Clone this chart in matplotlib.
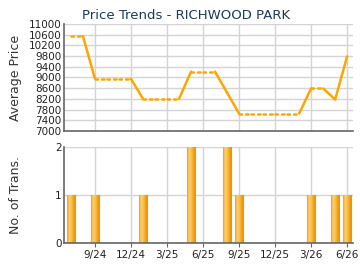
import matplotlib
matplotlib.use("Agg")
import matplotlib.pyplot as plt
import numpy as np
from matplotlib.colors import LinearSegmentedColormap

months = ["7/24", "8/24", "9/24", "10/24", "11/24", "12/24", "1/25", "2/25", "3/25",
          "4/25", "5/25", "6/25", "7/25", "8/25", "9/25", "10/25", "11/25", "12/25",
          "1/26", "2/26", "3/26", "4/26", "5/26", "6/26"]
prices = [10550, 10550, 8950, 8950, 8950, 8950, 8200, 8200, 8200, 8200, 9220, 9220,
          9220, 8435, 7650, 7650, 7650, 7650, 7650, 7650, 8590, 8590, 8180, 9790]
trans = [1, 0, 1, 0, 0, 0, 1, 0, 0, 0, 2, 0, 0, 2, 1, 0, 0, 0, 0, 0, 1, 0, 1, 1]
tick_labels = ["9/24", "12/24", "3/25", "6/25", "9/25", "12/25", "3/26", "6/26"]

x = np.arange(len(months))
tick_pos = [months.index(t) for t in tick_labels]

fig = plt.figure(figsize=(3.6, 2.7), dpi=100)
ax1 = fig.add_axes([0.179, 0.515, 0.802, 0.396])
ax2 = fig.add_axes([0.179, 0.100, 0.802, 0.356])

line_c = "#FFA500"
grid_c = "#d4d4d4"
spine_c = "#666666"
txt_c = "#222222"

for ax in (ax1, ax2):
    ax.set_xlim(-0.54, 23.5)
    for s in ("top", "right"):
        ax.spines[s].set_visible(False)
    for s in ("left", "bottom"):
        ax.spines[s].set_color(spine_c)
        ax.spines[s].set_linewidth(1.2)
    ax.set_xticks(tick_pos)
    ax.grid(True, color=grid_c, linewidth=1)
    ax.set_axisbelow(True)
    ax.tick_params(axis="y", length=0, labelsize=7.5, colors=txt_c, pad=2)

# Price line: segment into month with a transaction solid, else dotted
for i in range(1, len(x)):
    style = "-" if trans[i] > 0 else ":"
    ax1.plot(x[i-1:i+1], prices[i-1:i+1], color=line_c, linewidth=1.8,
             linestyle=style, solid_capstyle="round", dash_capstyle="round")

ax1.set_ylim(7000, 11000)
ax1.set_yticks(np.arange(7000, 11001, 400))
ax1.tick_params(axis="x", length=0, labelbottom=False)
ax1.set_ylabel("Average Price", fontsize=9, color="#333333")
ax1.yaxis.set_label_coords(-0.148, 0.5)
fig.text(0.227, 0.944, "Price Trends - RICHWOOD PARK", fontsize=9.5,
         color="#1b3a5e", ha="left", va="center")

# Bars with gradient
cmap = LinearSegmentedColormap.from_list("bar", ["#F0A020", "#FFD070", "#F8C050", "#F0A010", "#E89400"])
grad = np.linspace(0, 1, 64).reshape(1, -1)
bars = ax2.bar(x, trans, width=0.72, color="#F7B840", edgecolor="#EAA020", linewidth=0.8)
for b in bars:
    h = b.get_height()
    if h <= 0:
        continue
    x0 = b.get_x()
    w = b.get_width()
    im = ax2.imshow(grad, extent=[x0, x0 + w, 0, h], aspect="auto", cmap=cmap,
                    zorder=b.get_zorder() + 0.1, interpolation="bilinear")
    im.set_clip_path(b)

ax2.set_xlim(-0.54, 23.5)
ax2.set_ylim(0, 2)
ax2.set_yticks([0, 1, 2])
ax2.set_xticklabels(tick_labels)
ax2.tick_params(axis="x", length=3, color=spine_c, labelsize=7.5, colors=txt_c, pad=2)
ax2.set_ylabel("No. of Trans.", fontsize=9, color="#333333")
ax2.yaxis.set_label_coords(-0.148, 0.5)

fig.savefig("out.png", dpi=100)
